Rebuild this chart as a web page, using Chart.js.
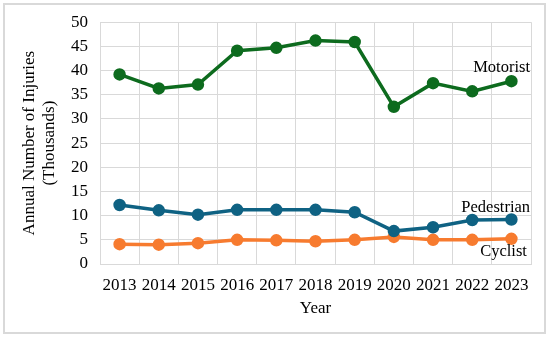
<!DOCTYPE html>
<html>
<head>
<meta charset="utf-8">
<script src="https://cdn.jsdelivr.net/npm/chart.js@4.4.1/dist/chart.umd.min.js"></script>
<style>
  html, body { margin: 0; padding: 0; background: #fff; }
  #wrap { width: 550px; height: 337px; position: relative; }
</style>
</head>
<body>
<div id="wrap"><canvas id="myChart"></canvas></div>
<script>
const years = ['2013', '2014', '2015', '2016', '2017', '2018', '2019', '2020', '2021', '2022', '2023'];
const motorist = [39.2, 36.3, 37.1, 44.1, 44.7, 46.2, 45.9, 32.5, 37.4, 35.7, 37.8];
const pedestrian = [12.2, 11.1, 10.2, 11.2, 11.2, 11.2, 10.7, 6.8, 7.6, 9.1, 9.2];
const cyclist = [4.1, 4.0, 4.3, 5.0, 4.9, 4.7, 5.0, 5.6, 5.0, 5.0, 5.2];
const yTicks = [0, 5, 10, 15, 20, 25, 30, 35, 40, 45, 50];

// series labels placed next to the lines (x index, y value)
const seriesLabels = [
    { text: 'Motorist', x: 9.75, y: 40.6 },
    { text: 'Pedestrian', x: 9.6, y: 11.7 },
    { text: 'Cyclist', x: 9.8, y: 2.5 }
];

const serif = "'Liberation Serif', 'Times New Roman', serif";

const frame = {
    id: 'frame',
    afterDraw: (chart) => {
        const { ctx, scales: { x, y } } = chart;
        ctx.save();
        ctx.strokeStyle = '#d9d9d9';
        ctx.lineWidth = 2;
        ctx.strokeRect(4, 4, 541, 329);
        ctx.fillStyle = '#000';
        ctx.font = '16.5px ' + serif;
        ctx.textAlign = 'center';
        ctx.textBaseline = 'middle';
        seriesLabels.forEach(l => {
            ctx.fillText(l.text, x.getPixelForValue(l.x), y.getPixelForValue(l.y));
        });
        ctx.restore();
    }
};

function series(label, data, color) {
    return {
        label: label,
        data: data,
        borderColor: color,
        backgroundColor: color,
        borderWidth: 3.5,
        pointRadius: 4.5,
        pointHoverRadius: 4.5,
        tension: 0
    };
}

new Chart(document.getElementById('myChart'), {
    type: 'line',
    data: {
        labels: years,
        datasets: [
            series('Motorist', motorist, '#0d6b1e'),
            series('Pedestrian', pedestrian, '#0f6283'),
            series('Cyclist', cyclist, '#f77b2f')
        ]
    },
    plugins: [frame],
    options: {
        responsive: true,
        maintainAspectRatio: false,
        animation: false,
        layout: { padding: { left: 15, right: 19, top: 12, bottom: 14 } },
        plugins: {
            legend: { display: false },
            tooltip: { enabled: false }
        },
        scales: {
            x: {
                offset: true,
                grid: { color: '#d9d9d9', offset: true, tickLength: 0 },
                border: { color: '#d9d9d9' },
                ticks: { color: '#000', font: { family: serif, size: 17 }, padding: 11, maxRotation: 0 },
                title: { display: true, text: 'Year', color: '#000', font: { family: serif, size: 17 }, padding: { top: 1 } },
                afterFit: (s) => { s.height = 59; }
            },
            y: {
                min: 0,
                max: 50,
                afterBuildTicks: (s) => { s.ticks = yTicks.map(v => ({ value: v })); },
                grid: { color: '#d9d9d9', tickLength: 0 },
                border: { color: '#d9d9d9' },
                ticks: { color: '#000', font: { family: serif, size: 17 }, padding: 12 },
                title: {
                    display: true,
                    text: ['Annual Number of Injuries', '(Thousands)'],
                    color: '#000',
                    font: { family: serif, size: 17, lineHeight: 1.2 },
                    padding: 4
                },
                afterFit: (s) => { s.width = 85; }
            }
        }
    }
});
</script>
</body>
</html>
